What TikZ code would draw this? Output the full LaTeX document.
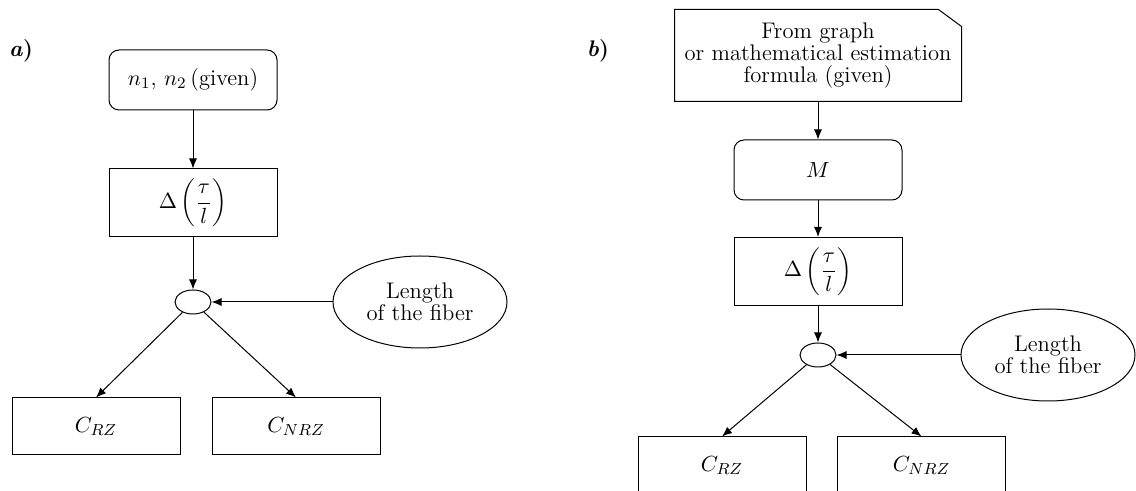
\documentclass[tikz,border=0pt]{standalone}
\usetikzlibrary{shapes.geometric,arrows.meta}
\begin{document}
\begin{tikzpicture}[x=0.5pt,y=-0.5pt,>={Latex[length=5pt,width=4pt]},line width=0.5pt,
        every node/.style={font=\fontsize{11.3}{11}\selectfont},
        rbox/.style={draw,rounded corners=5pt,minimum width=84pt,minimum height=30pt},
        dbox/.style={draw,minimum width=84pt,minimum height=34pt},
        obox/.style={draw,minimum width=84pt,minimum height=28.5pt},
        junc/.style={draw,ellipse,minimum width=18pt,minimum height=12pt,inner sep=0pt},
        extin/.style={draw,ellipse,align=center,minimum width=87pt,minimum height=46pt,inner sep=0pt}]
        \useasboundingbox (0,0) rectangle (1136,491);
        % part a)
        \node (labA) at (21,51) {\textbf{\textit{a})}};
        \node[rbox] (topA) at (193,80) {$n_1$, $n_2$\,(given)};
        \node[dbox] (dA) at (193,203) {$\displaystyle\Delta\left(\frac{\tau}{l}\right)$};
        \node[junc] (jA) at (193,302) {};
        \node[extin] (lenA) at (420,302) {Length\\of the fiber};
        \node[obox] (rzA) at (96,426.5) {$C_{RZ}$};
        \node[obox] (nrzA) at (296,426.5) {$C_{NRZ}$};
        \draw[->] (topA) -- (dA);
        \draw[->] (dA) -- (jA);
        \draw[->] (lenA) -- (jA);
        \draw[->] (jA) -- (rzA.north);
        \draw[->] (jA) -- (nrzA.north);
        % part b)
        \node (labB) at (598,51) {\textbf{\textit{b})}};
        \node[minimum width=143pt,minimum height=45.5pt,align=center] (srcB) at (818,55.5)
                {From graph\\or mathematical estimation\\formula (given)};
        \draw (srcB.north west) -- ([xshift=-11.5pt]srcB.north east)
                -- ([yshift=-8.5pt]srcB.north east) -- (srcB.south east)
                -- (srcB.south west) -- cycle;
        \node[rbox] (mB) at (818,170) {$M$};
        \node[dbox] (dB) at (818,271.5) {$\displaystyle\Delta\left(\frac{\tau}{l}\right)$};
        \node[junc] (jB) at (818,355) {};
        \node[extin] (lenB) at (1048,355) {Length\\of the fiber};
        \node[obox] (rzB) at (722,465.5) {$C_{RZ}$};
        \node[obox] (nrzB) at (921.5,465.5) {$C_{NRZ}$};
        \draw[->] (srcB) -- (mB);
        \draw[->] (mB) -- (dB);
        \draw[->] (dB) -- (jB);
        \draw[->] (lenB) -- (jB);
        \draw[->] (jB) -- (rzB.north);
        \draw[->] (jB) -- (nrzB.north);
\end{tikzpicture}
\end{document}
